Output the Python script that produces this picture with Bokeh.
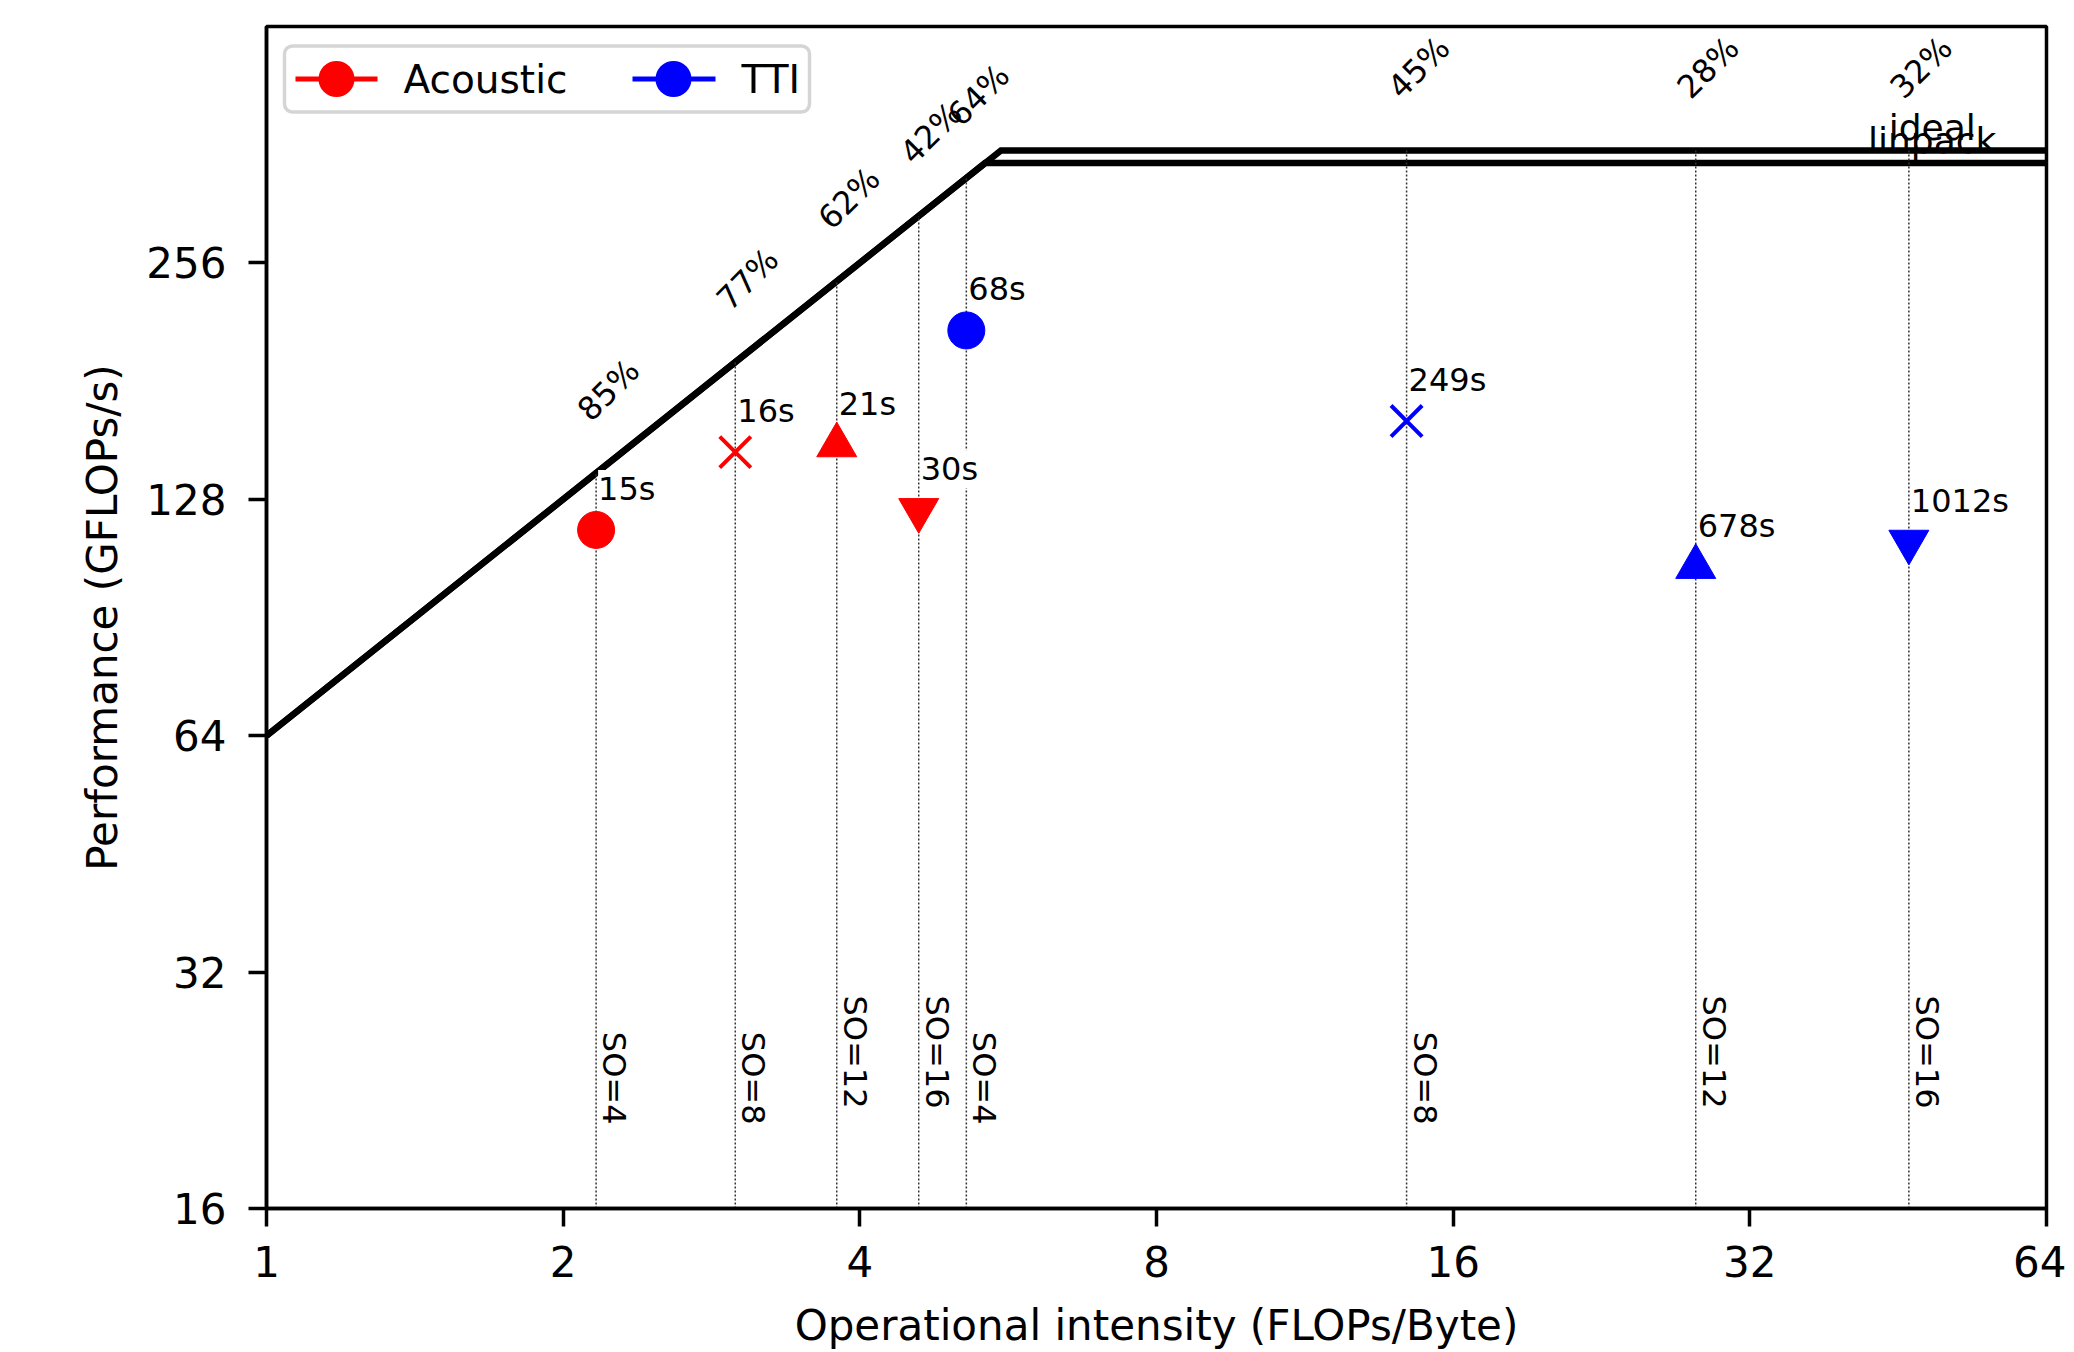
import numpy as np
from bokeh.plotting import figure
from bokeh.models import (ColumnDataSource, LabelSet, Label, BoxAnnotation,
                          FixedTicker, NumeralTickFormatter)
from bokeh.core.properties import value
from bokeh.embed import file_html
from bokeh.resources import INLINE

# ---------------- data ----------------
x_ticks = [1, 2, 4, 8, 16, 32, 64]
y_ticks = [16, 32, 64, 128, 256]
y_top = 512

bandwidth = 64.0        # GB/s  (roofline slope)
peak_ideal = 356.0      # GFLOPs/s
peak_linpack = 343.0    # GFLOPs/s

space_orders = ["SO=4", "SO=8", "SO=12", "SO=16"]

acoustic_oi = [2.16, 2.99, 3.79, 4.59]
acoustic_perf = [117.0, 147.0, 150.0, 124.0]
acoustic_time = ["15s", "16s", "21s", "30s"]
acoustic_pct = ["85%", "77%", "62%", "42%"]

tti_oi = [5.13, 14.35, 28.2, 46.4]
tti_perf = [210.0, 161.0, 105.0, 113.0]
tti_time = ["68s", "249s", "678s", "1012s"]
tti_pct = ["64%", "45%", "28%", "32%"]

roof_names = ["ideal", "linpack"]
roof_peaks = [peak_ideal, peak_linpack]

# ---------------- styling ----------------
FONT = "DejaVu Sans"
FW, FH = 1780, 1182
marker_kinds = ["circle", "x", "triangle", "inverted_triangle"]
marker_sizes = [37, 44, 40, 40]
marker_lw = [1, 4, 1, 1]

p = figure(frame_width=FW, frame_height=FH,
           x_axis_type="log", y_axis_type="log",
           x_range=(x_ticks[0], x_ticks[-1]), y_range=(y_ticks[0], y_top),
           output_backend="svg", toolbar_location=None,
           min_border_left=266, min_border_right=20,
           min_border_top=26, min_border_bottom=142,
           x_axis_label="Operational intensity (FLOPs/Byte)",
           y_axis_label="Performance (GFLOPs/s)")
p.background_fill_color = "white"
p.border_fill_color = "white"
p.xgrid.visible = False
p.ygrid.visible = False
p.outline_line_color = "black"
p.outline_line_width = 3.5
p.outline_line_alpha = 1.0

p.xaxis.ticker = FixedTicker(ticks=x_ticks, minor_ticks=[])
p.yaxis.ticker = FixedTicker(ticks=y_ticks, minor_ticks=[])
p.xaxis.formatter = NumeralTickFormatter(format="0")
p.yaxis.formatter = NumeralTickFormatter(format="0")
for ax in (p.xaxis[0], p.yaxis[0]):
    ax.axis_line_width = 3.5
    ax.axis_line_color = "black"
    ax.major_tick_line_width = 3.5
    ax.major_tick_line_color = "black"
    ax.major_tick_out = 18
    ax.major_tick_in = 0
    ax.minor_tick_out = 0
    ax.minor_tick_in = 0
    ax.major_label_text_font = FONT
    ax.major_label_text_font_size = "42px"
    ax.major_label_text_color = "black"
    ax.axis_label_text_font = FONT
    ax.axis_label_text_font_size = "42px"
    ax.axis_label_text_font_style = "normal"
    ax.axis_label_text_color = "black"
p.xaxis.major_label_standoff = 19
p.yaxis.major_label_standoff = 22
p.xaxis.axis_label_standoff = 21
p.yaxis.axis_label_standoff = 16

F = value(FONT)

# ---------------- rooflines ----------------
for pk in roof_peaks:
    rx = [x_ticks[0], pk / bandwidth, x_ticks[-1]]
    ry = [bandwidth * x_ticks[0], pk, pk]
    p.line(rx, ry, line_color="black", line_width=6.5, line_join="miter")

roof_lbl = ColumnDataSource(dict(x=[49.0] * len(roof_names), y=roof_peaks, text=roof_names))
p.add_layout(LabelSet(x="x", y="y", text="text", source=roof_lbl, text_align="center",
                      text_baseline="alphabetic", y_offset=10, text_font=F,
                      text_font_size="36px", text_color="black"))


def roof(oi):
    return np.minimum(bandwidth * np.asarray(oi), peak_ideal)


for oi, perf, times, pcts, color in ((acoustic_oi, acoustic_perf, acoustic_time, acoustic_pct, "#ff0000"),
                                      (tti_oi, tti_perf, tti_time, tti_pct, "#0000ff")):
    oi = np.asarray(oi)
    # dotted guide lines from the bottom up to the roof
    p.segment(x0=oi, y0=[y_ticks[0]] * len(oi), x1=oi, y1=roof(oi),
              line_dash="2 2", line_width=1.5, line_color="#333333")
    src = ColumnDataSource(dict(x=oi, y=perf, m=marker_kinds, s=marker_sizes, lw=marker_lw,
                                t=times, pct=pcts, r=roof(oi), so=space_orders,
                                soff=[84 + 16 * (len(s) - 4) for s in space_orders]))
    p.scatter(x="x", y="y", marker="m", size="s", line_width="lw",
              fill_color=color, line_color=color, source=src)
    # efficiency labels above the roof
    p.add_layout(LabelSet(x="x", y="r", text="pct", source=src, angle=np.pi / 4,
                          text_align="left", text_baseline="alphabetic",
                          x_offset=-5, y_offset=50, text_font=F,
                          text_font_size="32px", text_color="black"))
    # runtime labels
    p.add_layout(LabelSet(x="x", y="y", text="t", source=src, text_align="left",
                          text_baseline="alphabetic", x_offset=2, y_offset=30,
                          text_font=F, text_font_size="32px", text_color="black",
                          background_fill_color="white"))
    # space-order labels
    p.add_layout(LabelSet(x="x", y=y_ticks[0], text="so", source=src, angle=-np.pi / 2,
                          text_align="right", text_baseline="alphabetic",
                          x_offset=7, y_offset="soff", text_font=F,
                          text_font_size="32px", text_color="black"))

# ---------------- legend (drawn by hand for matplotlib-like sizes) ----------------
has_br = "border_radius" in BoxAnnotation.properties()


def sbox(l, r, t, b, **kw):
    args = dict(left=l, right=r, top=FH - t, bottom=FH - b,
                left_units="screen", right_units="screen",
                top_units="screen", bottom_units="screen", level="annotation")
    args.update(kw)
    if "border_radius" in args and not has_br:
        args.pop("border_radius")
    return BoxAnnotation(**args)


p.add_layout(sbox(18, 543, 19.5, 85.5, fill_color="white", fill_alpha=1.0,
                  line_color="#d5d5d5", line_width=3.5, line_alpha=1.0, border_radius=8))

legend_items = [("Acoustic", "#ff0000", 29, 111, 70, 137),
                ("TTI", "#0000ff", 366, 449, 407, 475)]
cy = 52.5
for name, color, l0, l1, cx, tx in legend_items:
    p.add_layout(sbox(l0, l1, cy - 2.5, cy + 2.5, fill_color=color, fill_alpha=1.0,
                      line_alpha=0))
    if has_br:
        p.add_layout(sbox(cx - 18, cx + 18, cy - 18, cy + 18, fill_color=color, fill_alpha=1.0,
                          line_alpha=0, border_radius=18))
    else:
        p.add_layout(Label(x=cx, y=FH - cy, x_units="screen", y_units="screen", text="\u25cf",
                           text_align="center", text_baseline="middle", text_font=FONT,
                           text_font_size="58px", text_color=color))
    p.add_layout(Label(x=tx, y=FH - cy, x_units="screen", y_units="screen", text=name,
                       text_align="left", text_baseline="middle", text_font=FONT,
                       text_font_size="39px", text_color="black"))

open("out.html", "w").write(file_html(p, INLINE))
